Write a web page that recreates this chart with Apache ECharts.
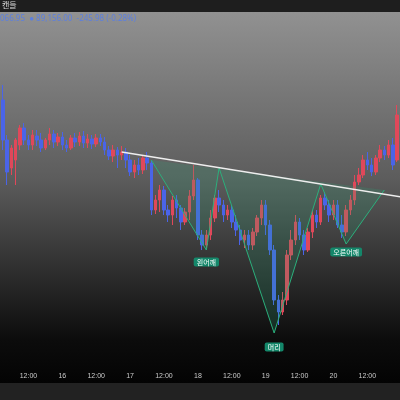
<!DOCTYPE html>
<html lang="ko">
<head>
<meta charset="UTF-8">
<title>역헤드앤숄더</title>
<script src="https://cdn.jsdelivr.net/npm/echarts@6/dist/echarts.min.js"></script>
<style>html,body{margin:0;padding:0;background:#000}#main{width:400px;height:400px}</style>
</head>
<body>
<div id="main"></div>
<script>
// levels (screen-y units, axis is inverted)
var categories = [];
var candles = [
 [100,140,85,150],[140,172,135,185],[168,148,145,175],[160,140,138,185],[145,128,125,150],
 [128,140,123,145],[140,145,135,150],[145,135,130,150],[136,140,130,146],[140,148,133,152],
 [148,140,138,150],[140,134,128,145],[134,142,130,148],[142,137,133,146],[137,145,132,150],
 [145,148,140,152],[148,138,135,150],[138,142,133,147],[142,136,132,146],[136,143,131,148],
 [143,139,134,148],[139,144,135,149],[144,138,134,147],[138,142,134,146],[142,150,137,155],
 [150,156,146,160],[156,150,145,162],[150,155,147,168],[155,152,146,160],[152,160,148,168],
 [160,172,155,176],[172,165,160,178],[165,170,158,175],[170,158,155,174],[158,163,152,170],
 [163,210,160,215],[210,200,195,214],[200,190,185,212],[190,210,186,215],[210,215,205,222],
 [215,200,196,225],[200,208,195,218],[208,222,205,230],[222,212,208,225],[212,196,190,220],
 [196,180,165,200],[180,235,178,240],[235,245,230,250],[245,235,230,248],[235,218,210,240],
 [218,198,195,222],[198,205,190,212],[205,215,200,222],[215,210,205,220],[210,222,205,228],
 [222,230,215,236],[230,240,225,245],[240,235,230,248],[235,245,230,250],[245,232,228,250],
 [232,218,215,236],[218,205,200,225],[205,225,200,235],[225,250,220,255],[250,300,245,305],
 [300,312,295,325],[312,300,292,315],[300,255,250,305],[255,240,230,260],[240,222,215,245],
 [222,235,218,240],[235,250,230,255],[250,232,228,252],[232,215,210,238],[215,222,210,228],
 [222,198,195,225],[198,205,192,210],[205,215,200,222],[215,205,200,220],[205,225,200,228],
 [225,232,215,238],[232,210,205,236],[210,200,195,215],[200,182,175,205],[182,175,168,185],
 [175,160,155,178],[160,165,152,170],[165,172,158,176],[172,158,155,175],[158,150,145,162],
 [150,155,146,160],[155,145,140,158],[145,165,138,170],[160,115,105,162]
];
var tickLabels = {6:'12:00',14:'16',22:'12:00',30:'17',38:'12:00',46:'18',54:'12:00',62:'19',70:'12:00',78:'20',86:'12:00'};
var pattern = [[34.8,160],[47.8,250],[51.3,168],[64.2,333],[74.8,184],[80.7,244],[90.1,190]];
var neckline = [[27.8,152],[93.6,197]];
var shoulderLabels = [{i:47.8,v:262,t:'왼어깨'},{i:64.2,v:347,t:'머리'},{i:80.7,v:252,t:'오른어깨'}];
for (var k = 0; k < candles.length; k++) categories.push(k);

var myChart = echarts.init(document.getElementById('main'));
var option = {
  animation:false,
  backgroundColor:{type:'linear',x:0,y:0,x2:0,y2:1,colorStops:[
    {offset:0,color:'#959595'},{offset:0.45,color:'#5c5c5c'},{offset:0.85,color:'#0c0c0c'},{offset:1,color:'#000'}]},
  graphic:[
    {type:'rect',shape:{x:0,y:0,width:400,height:12},style:{fill:'#1e1e1e'}},
    {type:'text',left:2,top:1,style:{text:'캔들',fill:'#ddd',fontSize:8,fontFamily:'Noto Sans CJK KR'}},
    {type:'text',left:0,top:15,style:{text:'066.95  ● 89,156.00  -245.98 (-0.28%)',fill:'#5b7fe0',fontSize:8,fontFamily:'Noto Sans'}},
    {type:'rect',shape:{x:0,y:383,width:400,height:17},style:{fill:'#222'}}
  ],
  grid:{left:0,right:0,top:0,bottom:30},
  xAxis:{type:'category',data:categories,boundaryGap:true,
    axisLine:{show:false},axisTick:{show:false},splitLine:{show:false},
    axisLabel:{color:'#ccc',fontSize:7,margin:3,interval:0,
      formatter:function(v,i){return tickLabels[i]||'';}}},
  yAxis:{type:'value',inverse:true,min:0,max:370,show:false,splitLine:{show:false}},
  series:[
    {type:'candlestick',data:candles,barWidth:'70%',
      itemStyle:{color:'#4a64e8',color0:'#e0485a',borderColor:'#4a64e8',borderColor0:'#e0485a'}},
    {type:'custom',silent:true,data:[0],z:5,
      renderItem:function(params,api){
        var pts = pattern.map(function(p){return api.coord(p);});
        var nk = neckline.map(function(p){return api.coord(p);});
        var children = [
          {type:'polygon',shape:{points:pts},style:{fill:'rgba(40,170,120,0.18)',stroke:null}},
          {type:'polyline',shape:{points:pts},style:{stroke:'#2bb07c',lineWidth:1,fill:null}},
          {type:'line',shape:{x1:nk[0][0],y1:nk[0][1],x2:nk[1][0],y2:nk[1][1]},style:{stroke:'#eeeeee',lineWidth:1.5}}
        ];
        shoulderLabels.forEach(function(s){
          var c = api.coord([s.i,s.v]);
          children.push({type:'text',x:c[0],y:c[1],style:{text:s.t,fill:'#fff',fontSize:7,
            fontFamily:'Noto Sans CJK KR',align:'center',verticalAlign:'middle',
            backgroundColor:'#14876a',padding:[1,3],borderRadius:2}});
        });
        return {type:'group',children:children};
      }}
  ]
};
myChart.setOption(option);
</script>
</body>
</html>
